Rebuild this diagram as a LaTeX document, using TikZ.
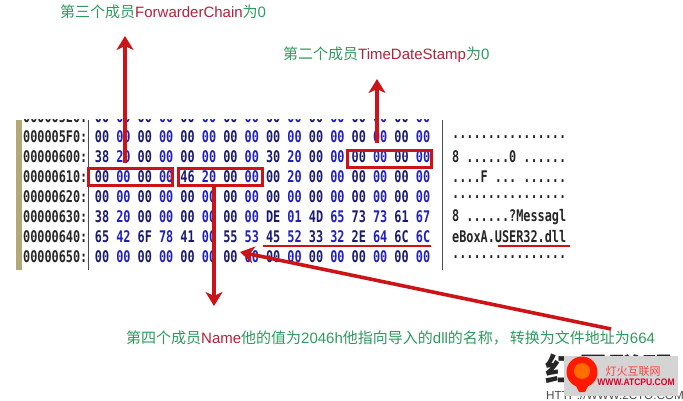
\documentclass[tikz,border=0pt]{standalone}
\usepackage{fontspec}
\setmainfont{Liberation Sans}
\setmonofont{DejaVu Sans Mono}
\newfontfamily\cjk{Noto Sans CJK SC}
\usetikzlibrary{arrows.meta}
\definecolor{notegreen}{HTML}{2E9A5E}
\definecolor{notered}{HTML}{B5203A}
\definecolor{markred}{HTML}{CC1418}
\definecolor{hexnavy}{HTML}{1A1A70}
\definecolor{hexblue}{HTML}{2020C0}
\definecolor{barbrown}{HTML}{B5A878}
\newcommand{\gr}[1]{{\color{notegreen}\cjk #1}}
\newcommand{\rd}[1]{{\color{notered}#1}}
\tikzset{
	note/.style={anchor=west,inner sep=0pt,font=\fontsize{15}{16}\selectfont},
	hexa/.style={inner sep=0pt,font=\ttfamily\bfseries\fontsize{16}{16}\selectfont\addfontfeature{FakeStretch=.74}},
	markbox/.style={draw=markred,line width=3.4pt,inner sep=0pt,anchor=north west,minimum width=83.6pt,minimum height=16.6pt},
	markline/.style={draw=markred,line width=2.2pt},
	markarrow/.style={markred,line width=3.6pt,-{Stealth[length=14pt,width=17pt,inset=4pt]}}
}
\begin{document}
\begin{tikzpicture}[x=1pt,y=-1pt]
	\useasboundingbox (0,0) rectangle (683,401);
	\fill[white] (0,0) rectangle (683,401);
	% hex dump, clipped at the top
	\begin{scope}
	\clip (0,120) rectangle (683,275);
	\foreach \off/\yy/\dump/\bytes in {
		000005E0:/117/{................}/{00,00,00,00,00,00,00,00,00,00,00,00,00,00,00,00},
		000005F0:/137/{................}/{00,00,00,00,00,00,00,00,00,00,00,00,00,00,00,00},
		00000600:/157/{8 ......0 ......}/{38,20,00,00,00,00,00,00,30,20,00,00,00,00,00,00},
		00000610:/177/{....F ... ......}/{00,00,00,00,46,20,00,00,00,20,00,00,00,00,00,00},
		00000620:/197/{................}/{00,00,00,00,00,00,00,00,00,00,00,00,00,00,00,00},
		00000630:/217/{8 ......?Messagl}/{38,20,00,00,00,00,00,00,DE,01,4D,65,73,73,61,67},
		00000640:/237/{eBoxA.USER32.dll}/{65,42,6F,78,41,00,55,53,45,52,33,32,2E,64,6C,6C},
		00000650:/257/{................}/{00,00,00,00,00,00,00,00,00,00,00,00,00,00,00,00}}
	{
		\node[hexa,anchor=west,text=black!85] at (23,\yy) {\off};
		\node[hexa,anchor=west,text=black!85] at (452,\yy) {\dump};
		\foreach \b [count=\i from 0] in \bytes {
			\pgfmathsetmacro{\xx}{102+21.4*\i}
			\pgfmathparse{int(mod(\i,2))}
			\ifnum\pgfmathresult=0
				\node[hexa,text=hexnavy] at (\xx,\yy) {\b};
			\else
				\node[hexa,text=hexblue] at (\xx,\yy) {\b};
			\fi
		}
	}
	\end{scope}
	\fill[barbrown] (16,120) rectangle (22,270);
	\draw[black!70,line width=1pt] (88,120) -- (88,270);
	\draw[black!70,line width=1pt] (442,120) -- (442,270);
	% boxes
	\node[markbox] (chain) at (87,167) {};
	\node[markbox] (name) at (177,167) {};
	\node[markbox] (stamp) at (346,149) {};
	% underlines
	\coordinate (hexa) at (263,246);
	\coordinate (hexb) at (431,246);
	\coordinate (dumpa) at (498,246);
	\coordinate (dumpb) at (570,246);
	\draw[markline] (hexa) -- (hexb);
	\draw[markline] (dumpa) -- (dumpb);
	% notes
	\node[note] (n3) at (60,12) {\gr{第三个成员}\rd{ForwarderChain}\gr{为}{\color{notegreen}0}};
	\node[note] (n2) at (283,55) {\gr{第二个成员}\rd{TimeDateStamp}\gr{为}{\color{notegreen}0}};
	\node[note] (n4) at (126,338) {\gr{第四个成员}\rd{Name}\gr{他的值为}{\color{notegreen}2046h}\gr{他指向导入的}{\color{notegreen}dll}\gr{的名称，\hspace{2pt}转换为文件地址为}{\color{notegreen}664}};
	% arrows
	\coordinate (a3s) at (125,163);
	\coordinate (a3e) at (125,36);
	\coordinate (a2s) at (377,143);
	\coordinate (a2e) at (377,79);
	\coordinate (a4s) at (214,187);
	\coordinate (a4e) at (214,306);
	\coordinate (a5s) at (611,329);
	\coordinate (a5e) at (240,252);
	\draw[markarrow] (a3s) -- (a3e);
	\draw[markarrow] (a2s) -- (a2e);
	\draw[markarrow] (a4s) -- (a4e);
	\draw[markarrow] (a5s) -- (a5e);
	% logo under the stamp
	\node[inner sep=0pt,text=black!85,font=\cjk\bfseries\fontsize{32}{32}\selectfont] (logo) at (609,369) {红黑联盟};
	\node[inner sep=0pt,text=black!70,font=\fontsize{11.7}{12}\selectfont] (site) at (615,395) {HTTP://WWW.2CTO.COM};
	% stamp
	\node[fill=black!17,inner sep=0pt,minimum width=114pt,minimum height=40pt,anchor=north west] (stampbg) at (564,356) {};
	\node[circle,fill=red!80!orange,inner sep=0pt,minimum size=31pt] (bulb) at (582,372) {};
	\node[circle,fill=orange!85!red,inner sep=0pt,minimum size=16pt] (flame) at (582,371) {};
	\fill[red!80!orange] (576,386) -- (588,386) -- (585,392) -- (579,392) -- cycle;
	\node[inner sep=0pt,text=red!75,font=\cjk\fontsize{11}{11}\selectfont] (cn) at (633,371) {灯火互联网};
	\node[inner sep=0pt,text=red!85!blue,font=\bfseries\fontsize{9.5}{10}\selectfont\addfontfeature{FakeStretch=.9}] (url) at (636,382) {WWW.ATCPU.COM};
\end{tikzpicture}
\end{document}
